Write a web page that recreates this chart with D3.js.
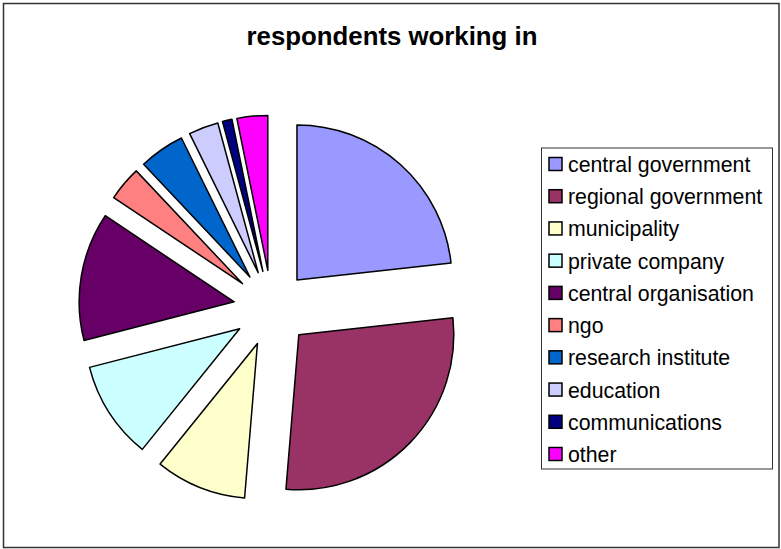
<!DOCTYPE html>
<html>
<head>
<meta charset="utf-8">
<script src="https://cdn.jsdelivr.net/npm/d3@7"></script>
<style>
  body { margin: 0; background: #fff; }
  svg { display: block; }
  text { font-family: "Liberation Sans", Arial, sans-serif; }
</style>
</head>
<body>
<div id="chart"></div>
<script>
var w = 781;
var h = 549;

// data (share of respondents, %)
var categories = ["central government", "regional government", "municipality", "private company",
  "central organisation", "ngo", "research institute", "education", "communications", "other"];
var values = [23.3, 28.1, 9.5, 10.2, 13.4, 3.6, 4.75, 3.1, 1.0, 3.2];
var colors = ["#9999ff", "#993366", "#ffffcc", "#ccffff", "#660066", "#ff8080", "#0066cc", "#ccccff", "#000080", "#ff00ff"];

var cx = 271.6, cy = 308.2;
var radius = 155;
var explode = 38;

var svg = d3.select("#chart")
  .append("svg")
  .attr("width", w)
  .attr("height", h);

// outer frame
svg.append("rect")
  .attr("x", 3.5)
  .attr("y", 3.5)
  .attr("width", 775.5)
  .attr("height", 544)
  .attr("fill", "#fff")
  .attr("stroke", "#333")
  .attr("stroke-width", 1.5);

svg.append("text")
  .attr("x", 392)
  .attr("y", 45)
  .attr("text-anchor", "middle")
  .attr("font-size", "25.8px")
  .attr("font-weight", "bold")
  .text("respondents working in");

var pie = d3.pie()
  .sort(null)
  .value(function (d) { return d; });

var arc = d3.arc()
  .innerRadius(0)
  .outerRadius(radius);

var slices = pie(values);

svg.append("g")
  .attr("transform", "translate(" + cx + "," + cy + ")")
  .selectAll("path")
  .data(slices)
  .enter()
  .append("path")
  .attr("d", arc)
  .attr("transform", function (d) {
    var a = (d.startAngle + d.endAngle) / 2;
    return "translate(" + (explode * Math.sin(a)) + "," + (-explode * Math.cos(a)) + ")";
  })
  .attr("fill", function (d, i) { return colors[i]; })
  .attr("stroke", "#000")
  .attr("stroke-width", 1.5)
  .attr("stroke-linejoin", "round");

// legend
var legend = svg.append("g");

legend.append("rect")
  .attr("x", 541.5)
  .attr("y", 148)
  .attr("width", 231)
  .attr("height", 321)
  .attr("fill", "#fff")
  .attr("stroke", "#333")
  .attr("stroke-width", 1);

var rowY = d3.scalePoint()
  .domain(categories)
  .range([164, 454]);

var items = legend.selectAll(".item")
  .data(categories)
  .enter()
  .append("g")
  .attr("class", "item")
  .attr("transform", function (d) { return "translate(0," + rowY(d) + ")"; });

items.append("rect")
  .attr("x", 549)
  .attr("y", -6.5)
  .attr("width", 13)
  .attr("height", 13)
  .attr("fill", function (d, i) { return colors[i]; })
  .attr("stroke", "#000")
  .attr("stroke-width", 1.5);

items.append("text")
  .attr("x", 568)
  .attr("y", 8)
  .attr("font-size", "21.3px")
  .text(function (d) { return d; });
</script>
</body>
</html>
